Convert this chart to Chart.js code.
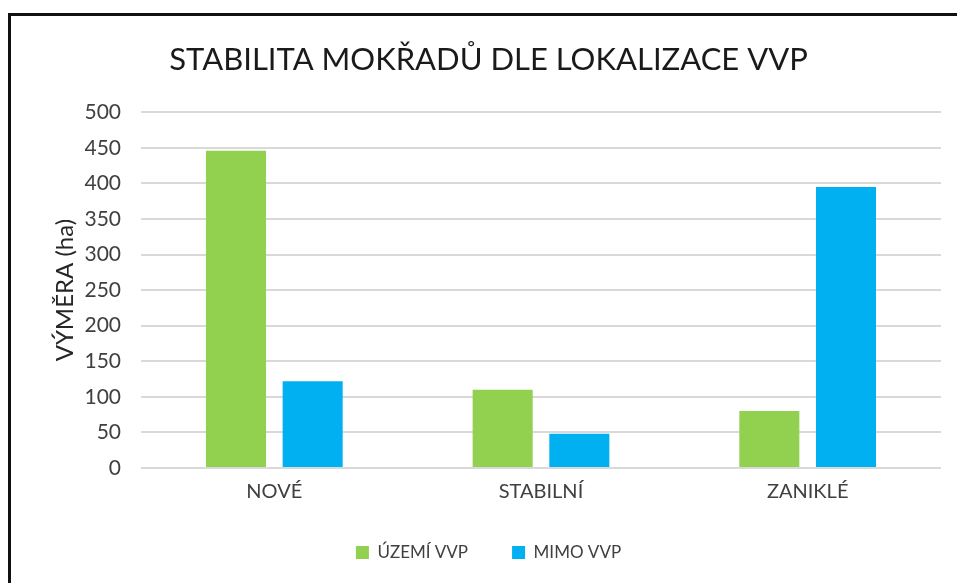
<!DOCTYPE html>
<html>
<head>
<meta charset="utf-8">
<script src="https://cdn.jsdelivr.net/npm/chart.js@4"></script>
<style>
    html, body { margin: 0; padding: 0; background: #fff; overflow: hidden; }
    #wrap { position: relative; width: 957px; height: 583px; }
    #frame { position: absolute; left: 8px; top: 13px; width: 1000px; height: 650px; border: 3px solid #111; pointer-events: none; }
</style>
</head>
<body>
<div id="wrap">
    <canvas id="graf"></canvas>
    <div id="frame"></div>
</div>
<script>
const kategorie = ["NOVÉ", "STABILNÍ", "ZANIKLÉ"];
const uzemiVVP = [446, 110, 80];
const mimoVVP = [122, 48, 395];

const pismo = "Lato, 'Open Sans', sans-serif";

let graf = new Chart(document.getElementById("graf"), {
    type: "bar",
    data: {
        labels: kategorie,
        datasets: [
            {
                label: "ÚZEMÍ VVP",
                data: uzemiVVP,
                backgroundColor: "#92D050",
                categoryPercentage: 0.575,
                barPercentage: 0.783
            },
            {
                label: "MIMO VVP",
                data: mimoVVP,
                backgroundColor: "#00B0F0",
                categoryPercentage: 0.575,
                barPercentage: 0.783
            }
        ]
    },
    options: {
        responsive: true,
        maintainAspectRatio: false,
        animation: false,
        layout: {
            padding: { left: 36, right: 16, top: 0, bottom: 12 }
        },
        scales: {
            x: {
                grid: { display: false },
                border: { display: false },
                ticks: { color: "#404040", font: { family: pismo, size: 20 }, padding: 4 },
                afterFit: (scale) => { scale.height = 32; }
            },
            y: {
                min: 0,
                max: 500,
                ticks: { stepSize: 50, color: "#404040", font: { family: pismo, size: 21 }, padding: 20 },
                grid: { color: "#D9D9D9", lineWidth: 2, drawTicks: false },
                border: { display: false },
                title: {
                    display: true,
                    text: "VÝMĚRA (ha)",
                    color: "#262626",
                    font: { family: pismo, size: 24 },
                    padding: { top: 15, bottom: 0 }
                },
                afterFit: (scale) => { scale.width = 105; }
            }
        },
        plugins: {
            legend: {
                position: "bottom",
                labels: {
                    boxWidth: 13,
                    boxHeight: 13,
                    color: "#404040",
                    font: { family: pismo, size: 17 },
                    padding: 44
                }
            },
            title: {
                display: true,
                text: "STABILITA MOKŘADŮ DLE LOKALIZACE VVP",
                color: "#1a1a1a",
                font: { family: pismo, size: 31, weight: "normal" },
                padding: { top: 41, bottom: 34 }
            },
            tooltip: { enabled: false }
        }
    }
});
</script>
</body>
</html>
